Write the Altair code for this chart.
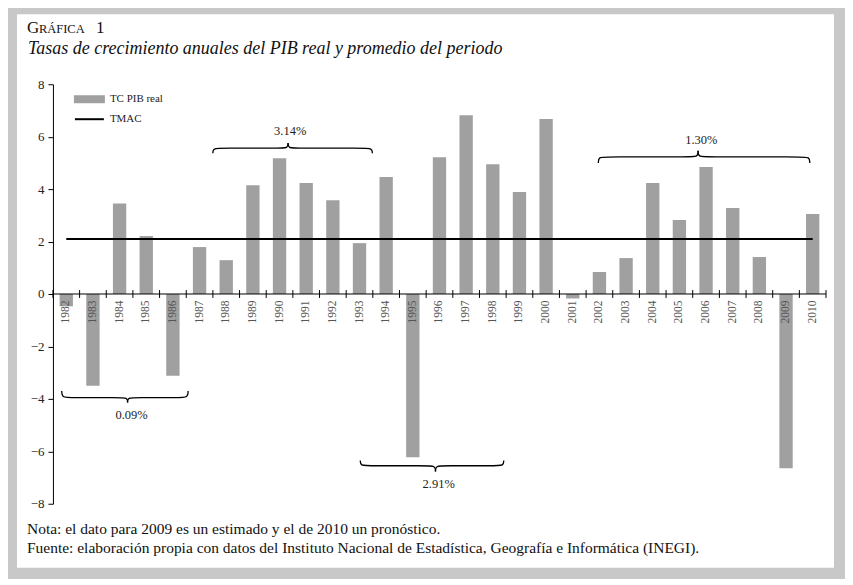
import altair as alt
import pandas as pd

# ---- data ----
years = [str(y) for y in range(1982, 2011)]
growth = [-0.47, -3.5, 3.45, 2.21, -3.12, 1.79, 1.29, 4.15, 5.18, 4.23, 3.58, 1.94,
          4.46, -6.23, 5.22, 6.82, 4.95, 3.89, 6.67, -0.17, 0.84, 1.37, 4.23, 2.82,
          4.84, 3.28, 1.41, -6.65, 3.05]
tmac = 2.1
y_ticks = [-8, -6, -4, -2, 0, 2, 4, 6, 8]

# braces (x in band units, 0 = left edge of 1982; y in data units)
brace_labels = ["0.09%", "3.14%", "2.91%", "1.30%"]
brace_x0 = [0.33, 6.0, 11.53, 20.46]
brace_x1 = [5.07, 11.98, 16.91, 28.39]
brace_tip = [2.8, 8.82, 14.35, 24.2]
brace_end = [-3.7, 5.37, -6.35, 5.0]
brace_flat = [-3.95, 5.56, -6.55, 5.23]
brace_peak = [-4.14, 5.76, -6.77, 5.46]
label_x = [2.95, 8.9, 14.47, 24.32]
label_y = [-4.61, 6.2, -7.24, 5.86]

FONT = "Liberation Serif"
BAR = "#a0a0a0"
FRAME = "#c8c8c8"
N = len(years)

bars_df = pd.DataFrame({"year": years, "v": growth})
yscale = alt.Scale(domain=[-8, 8], nice=False)
xq = alt.Scale(domain=[0, N], nice=False, zero=False)
yaxis = alt.Axis(title=None, values=y_ticks, format="d", labelFont=FONT,
                 labelFontSize=13, labelColor="#222", domainColor="black",
                 tickColor="black", tickSize=5, labelPadding=4, grid=False,
                 zindex=1)

# brace geometry
rows = []
for i in range(len(brace_labels)):
    x0, x1, xt = brace_x0[i], brace_x1[i], brace_tip[i]
    ye, yf, yp = brace_end[i], brace_flat[i], brace_peak[i]
    r = 0.35
    left = [(x0, ye), (x0, yf), (x0 + r, yf), (xt - r, yf), (xt, yf), (xt, yp)]
    right = [(xt, yp), (xt, yf), (xt + r, yf), (x1 - r, yf), (x1, yf), (x1, ye)]
    for k, (px, py) in enumerate(left):
        rows.append({"seg": f"{i}L", "o": k, "x": px, "v": py})
    for k, (px, py) in enumerate(right):
        rows.append({"seg": f"{i}R", "o": k, "x": px, "v": py})
brace_df = pd.DataFrame(rows)
label_df = pd.DataFrame({"t": brace_labels, "x": label_x, "v": label_y})

one = pd.DataFrame({"a": [0]})

# white inner panel on grey frame
panel = alt.Chart(one).mark_rect(color="white").encode(
    x=alt.value(-36), x2=alt.value(782), y=alt.value(-70), y2=alt.value(484)
)

bars = alt.Chart(bars_df).mark_bar(color=BAR).encode(
    x=alt.X("year:O", sort=years,
            scale=alt.Scale(paddingInner=0.5, paddingOuter=0.25),
            axis=alt.Axis(title=None, labelAngle=270, domain=False, ticks=False,
                          offset=-210, labelPadding=6, labelColor="#555",
                          labelFont=FONT, labelFontSize=11.5, zindex=1)),
    y=alt.Y("v:Q", scale=yscale, axis=yaxis),
)

zero_df = pd.DataFrame({"x": [0], "x2": [N], "v": [0]})
zero_line = alt.Chart(zero_df).mark_rule(color="black", strokeWidth=1).encode(
    x=alt.X("x:Q", scale=xq, axis=None), x2="x2:Q",
    y=alt.Y("v:Q", scale=yscale, axis=yaxis)
)

tick_df = pd.DataFrame({"x": list(range(N + 1)), "v": [-0.15] * (N + 1), "v2": [0.15] * (N + 1)})
xticks = alt.Chart(tick_df).mark_rule(color="black", strokeWidth=1).encode(
    x=alt.X("x:Q", scale=xq, axis=None),
    y=alt.Y("v:Q", scale=yscale, axis=yaxis), y2="v2:Q"
)

tmac_df = pd.DataFrame({"x": [0.5], "x2": [N - 0.5], "v": [tmac]})
tmac_line = alt.Chart(tmac_df).mark_rule(color="black", strokeWidth=2).encode(
    x=alt.X("x:Q", scale=xq, axis=None), x2="x2:Q",
    y=alt.Y("v:Q", scale=yscale, axis=yaxis)
)

braces = alt.Chart(brace_df).mark_line(interpolate="basis", color="black", strokeWidth=1.3).encode(
    x=alt.X("x:Q", scale=xq, axis=None),
    y=alt.Y("v:Q", scale=yscale, axis=yaxis),
    detail="seg:N", order="o:Q"
)

blabels = alt.Chart(label_df).mark_text(font=FONT, fontSize=12.5, color="#222").encode(
    x=alt.X("x:Q", scale=xq, axis=None),
    y=alt.Y("v:Q", scale=yscale, axis=yaxis),
    text="t:N"
)

# legend (drawn by hand)
leg_sw = alt.Chart(one).mark_rect(color=BAR).encode(
    x=alt.value(21), x2=alt.value(52), y=alt.value(11), y2=alt.value(19))
leg_ln = alt.Chart(one).mark_rule(color="black", strokeWidth=2).encode(
    x=alt.value(22), x2=alt.value(51), y=alt.value(35))
leg_t1 = alt.Chart(one).mark_text(text="TC PIB real", font=FONT, fontSize=11, align="left",
                                  baseline="middle", color="#222").encode(
    x=alt.value(57), y=alt.value(15))
leg_t2 = alt.Chart(one).mark_text(text="TMAC", font=FONT, fontSize=11, align="left",
                                  baseline="middle", color="#222").encode(
    x=alt.value(57), y=alt.value(35))

# title (small caps imitation) and subtitle
t_g = alt.Chart(one).mark_text(text="G", font=FONT, fontSize=17, align="left",
                               baseline="alphabetic", color="#111").encode(
    x=alt.value(-26), y=alt.value(-51))
t_r = alt.Chart(one).mark_text(text="RÁFICA", font=FONT, fontSize=12.5, align="left",
                               baseline="alphabetic", color="#111").encode(
    x=alt.value(-14), y=alt.value(-51))
t_1 = alt.Chart(one).mark_text(text="1", font=FONT, fontSize=17, align="left",
                               baseline="alphabetic", color="#111").encode(
    x=alt.value(43), y=alt.value(-51))
subtitle = alt.Chart(one).mark_text(
    text="Tasas de crecimiento anuales del PIB real y promedio del periodo",
    font=FONT, fontSize=18, fontStyle="italic", align="left", baseline="alphabetic",
    color="#111").encode(x=alt.value(-25), y=alt.value(-30))

note1 = alt.Chart(one).mark_text(
    text="Nota: el dato para 2009 es un estimado y el de 2010 un pronóstico.",
    font=FONT, fontSize=15.5, align="left", baseline="alphabetic", color="#111").encode(
    x=alt.value(-26), y=alt.value(450))
note2 = alt.Chart(one).mark_text(
    text="Fuente: elaboración propia con datos del Instituto Nacional de Estadística, Geografía e Informática (INEGI).",
    font=FONT, fontSize=15.5, align="left", baseline="alphabetic", color="#111").encode(
    x=alt.value(-26), y=alt.value(469))

chart = alt.layer(
    panel, bars, zero_line, xticks, tmac_line, braces, blabels,
    leg_sw, leg_ln, leg_t1, leg_t2, t_g, t_r, t_1, subtitle, note1, note2
).resolve_scale(x="independent").properties(
    width=774, height=420,
    autosize=alt.AutoSizeParams(type="none"),
    padding={"left": 45, "top": 76, "right": 19, "bottom": 75},
    background=FRAME,
).configure_view(strokeWidth=0)

chart.save("out.html", embed_options={"renderer": "svg", "actions": False})
